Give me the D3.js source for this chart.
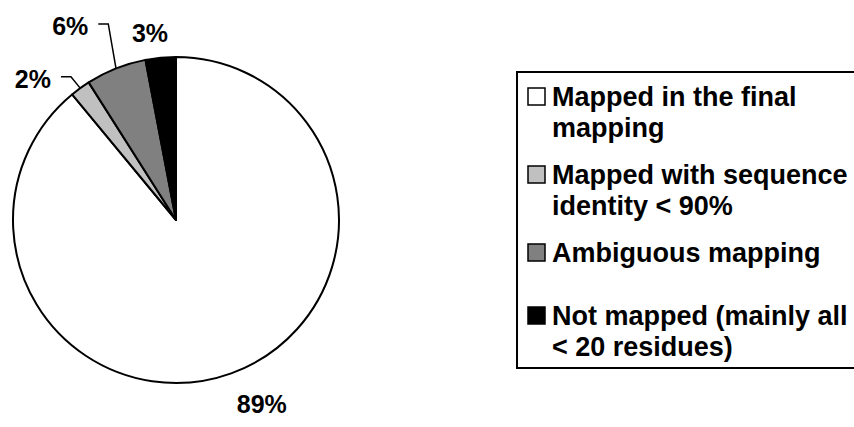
<!DOCTYPE html>
<html>
<head>
<meta charset="utf-8">
<script src="https://cdn.jsdelivr.net/npm/d3@7"></script>
<style>
  body { margin: 0; background: #fff; }
  svg { display: block; font-family: "Liberation Sans", Arial, sans-serif; font-weight: bold; }
</style>
</head>
<body>
<svg width="854" height="427"></svg>
<script>
// slices, clockwise from 12 o'clock
var categories = ["Mapped in the final mapping", "Mapped with sequence identity < 90%", "Ambiguous mapping", "Not mapped (mainly all < 20 residues)"];
var values = [89, 2, 6, 3];
var pctLabels = ["89%", "2%", "6%", "3%"];
// legend text as wrapped in the picture
var legendLines = [
  ["Mapped in the final", "mapping"],
  ["Mapped with sequence", "identity < 90%"],
  ["Ambiguous mapping"],
  ["Not mapped (mainly all", "< 20 residues)"]
];
var fills = ["#ffffff", "#c0c0c0", "#808080", "#000000"];

var svg = d3.select("svg"),
    cx = 176, cy = 220, r = 163;

// where each % label sits (angle deg from top, distance from centre), and whether it gets a leader
var labelAngle = [155, -45.4, -28.6, -7.9],
    labelDist = [203, 201, 221, 189],
    hasLeader = [false, true, true, false];

var pie = d3.pie().sort(null).value(function(d) { return d; });
var arcs = pie(values);

var arc = d3.arc().innerRadius(0).outerRadius(r);

var g = svg.append("g").attr("transform", "translate(" + cx + "," + cy + ")");

g.selectAll("path")
    .data(arcs)
  .enter().append("path")
    .attr("d", arc)
    .attr("fill", function(d, i) { return fills[i]; })
    .attr("stroke", "#000")
    .attr("stroke-width", 2)
    .attr("stroke-linejoin", "round");

// labels
var fontSize = 25;
arcs.forEach(function(d, i) {
  var a = labelAngle[i] * Math.PI / 180,
      lx = Math.sin(a) * labelDist[i],
      ly = -Math.cos(a) * labelDist[i];
  var t = g.append("text")
      .attr("x", lx)
      .attr("y", ly)
      .attr("dy", "0.36em")
      .attr("text-anchor", "middle")
      .attr("font-size", fontSize)
      .attr("fill", "#000")
      .text(pctLabels[i]);

  if (hasLeader[i]) {
    var w = t.node().getComputedTextLength(),
        mid = (d.startAngle + d.endAngle) / 2,
        px = Math.sin(mid) * r,
        py = -Math.cos(mid) * r,
        right = lx + w / 2;
    g.append("path")
        .attr("d", d3.line()([[right + 10, ly - 2], [right + 20, ly - 2], [px, py]]))
        .attr("fill", "none")
        .attr("stroke", "#000")
        .attr("stroke-width", 1.5);
  }
});

// legend
var leg = svg.append("g");
leg.append("rect")
    .attr("x", 517)
    .attr("y", 72)
    .attr("width", 345)
    .attr("height", 296)
    .attr("fill", "#fff")
    .attr("stroke", "#000")
    .attr("stroke-width", 2);

var legBase = [106, 184, 262, 325],
    lineH = 31;

categories.forEach(function(c, i) {
  var item = leg.append("g");
  item.append("rect")
      .attr("x", 528)
      .attr("y", legBase[i] - 18)
      .attr("width", 17)
      .attr("height", 17)
      .attr("fill", fills[i])
      .attr("stroke", "#000")
      .attr("stroke-width", 1.5);
  item.selectAll("text")
      .data(legendLines[i])
    .enter().append("text")
      .attr("x", 552)
      .attr("y", function(d, j) { return legBase[i] + j * lineH; })
      .attr("font-size", 27)
      .attr("fill", "#000")
      .text(function(d) { return d; });
});
</script>
</body>
</html>
